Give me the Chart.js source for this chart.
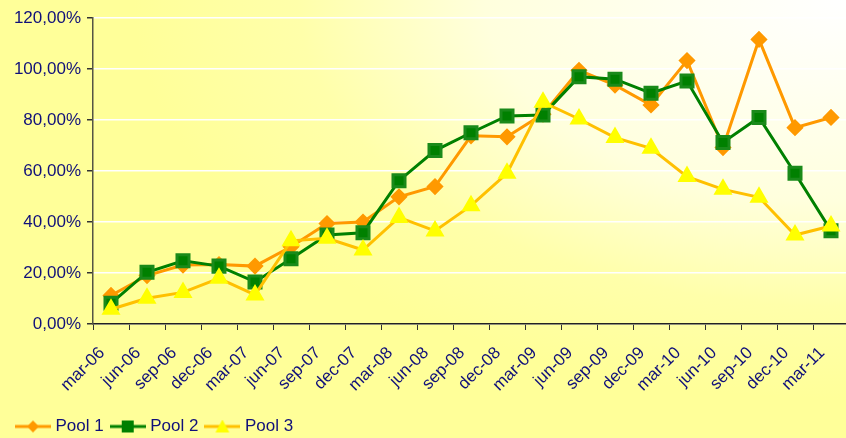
<!DOCTYPE html>
<html>
<head>
<meta charset="utf-8">
<script src="https://cdn.jsdelivr.net/npm/chart.js@4/dist/chart.umd.min.js"></script>
<style>
    html, body { margin: 0; padding: 0; overflow: hidden; }
    body {
        width: 846px;
        height: 438px;
        background: radial-gradient(750px 420px at 100% 0%, #ffffff 0%, #fffff2 20%, #ffffdd 48%, #ffffaa 73%, #ffff99 95%);
        background-color: #ffff99;
    }
    #wrap { width: 849px; height: 445px; }
</style>
</head>
<body>
<div id="wrap"><canvas id="poolChart" width="849" height="445"></canvas></div>
<script>
// Quarters
const kategoriler = ['mar-06', 'jun-06', 'sep-06', 'dec-06', 'mar-07', 'jun-07', 'sep-07', 'dec-07',
    'mar-08', 'jun-08', 'sep-08', 'dec-08', 'mar-09', 'jun-09', 'sep-09', 'dec-09',
    'mar-10', 'jun-10', 'sep-10', 'dec-10', 'mar-11'];

// Values in percent
const pool1 = [11.2, 19.0, 23.1, 23.3, 22.7, 30.3, 39.4, 40.0, 49.9, 53.9, 73.8, 73.4, 82.3,
    99.5, 93.7, 85.9, 103.3, 69.2, 111.6, 77.0, 81.0];
const pool2 = [8.1, 20.3, 24.8, 22.7, 16.5, 25.6, 34.9, 35.8, 56.2, 68.0, 75.0, 81.6, 82.0,
    97.0, 96.0, 90.5, 95.3, 71.2, 81.0, 59.1, 36.6];
const pool3 = [5.8, 10.1, 12.4, 17.9, 11.4, 32.6, 33.6, 29.0, 41.8, 36.5, 46.4, 59.1, 87.0,
    80.4, 73.1, 68.9, 57.8, 52.8, 49.7, 34.9, 38.4];

const yTicks = [0, 20, 40, 60, 80, 100, 120];

const lacivert = '#10107a';
Chart.defaults.font.family = '"Liberation Sans", Arial, sans-serif';
Chart.defaults.font.size = 17;
Chart.defaults.color = lacivert;

// Legend symbol: short line with the marker in the middle
function legendIkon(cizgi, dolgu, tip) {
    const c = document.createElement('canvas');
    c.width = 36; c.height = 14;
    const g = c.getContext('2d');
    g.strokeStyle = cizgi;
    g.lineWidth = 3;
    g.beginPath(); g.moveTo(0, 7); g.lineTo(36, 7); g.stroke();
    g.fillStyle = dolgu;
    g.beginPath();
    if (tip === 'elmas') {
        g.moveTo(18, 1); g.lineTo(24, 7); g.lineTo(18, 13); g.lineTo(12, 7);
    } else if (tip === 'kare') {
        g.rect(12, 1, 12, 12);
    } else {
        g.moveTo(18, 0); g.lineTo(25, 13); g.lineTo(11, 13);
    }
    g.closePath(); g.fill();
    return c;
}

const ikonlar = [
    legendIkon('#ff9900', '#ff9900', 'elmas'),
    legendIkon('#008000', '#008000', 'kare'),
    legendIkon('#ffc000', '#ffff00', 'ucgen')
];

const ctx = document.getElementById('poolChart').getContext('2d');

new Chart(ctx, {
    type: 'line',
    data: {
        labels: kategoriler,
        datasets: [
            {
                label: 'Pool 1',
                data: pool1,
                borderColor: '#ff9900',
                backgroundColor: '#ff9900',
                pointBackgroundColor: '#ff9900',
                pointBorderColor: '#ff9900',
                pointStyle: 'rectRot',
                pointRadius: 6.5,
                borderWidth: 3,
                order: 3
            },
            {
                label: 'Pool 2',
                data: pool2,
                borderColor: '#008000',
                backgroundColor: '#008000',
                pointBackgroundColor: '#008000',
                pointBorderColor: '#1a8a1a',
                pointStyle: 'rect',
                pointRadius: 8.5,
                borderWidth: 3,
                order: 2
            },
            {
                label: 'Pool 3',
                data: pool3,
                borderColor: '#ffc000',
                backgroundColor: '#ffff00',
                pointBackgroundColor: '#ffff00',
                pointBorderColor: '#ffff00',
                pointStyle: 'triangle',
                pointRadius: 8,
                borderWidth: 3,
                order: 1
            }
        ]
    },
    options: {
        responsive: false,
        animation: false,
        layout: { autoPadding: false, padding: { left: 9, right: 0, top: 18, bottom: 0 } },
        plugins: {
            tooltip: { enabled: false },
            legend: {
                display: true,
                position: 'bottom',
                align: 'start',
                labels: {
                    usePointStyle: true,
                    pointStyleWidth: 28,
                    padding: 10,
                    sort: (a, b) => a.datasetIndex - b.datasetIndex,
                    generateLabels: function(chart) {
                        const items = Chart.defaults.plugins.legend.labels.generateLabels(chart);
                        items.forEach(it => { it.pointStyle = ikonlar[it.datasetIndex]; });
                        return items;
                    }
                }
            }
        },
        scales: {
            x: {
                offset: true,
                afterFit: function(axis) {
                    axis.height = 84;
                    axis.paddingLeft = 0;
                    axis.paddingRight = 0;
                },
                grid: {
                    offset: true,
                    drawOnChartArea: false,
                    drawTicks: true,
                    tickLength: 6,
                    color: '#333333'
                },
                border: { color: '#222222', width: 1.5 },
                ticks: {
                    maxRotation: 45,
                    minRotation: 45,
                    autoSkip: false,
                    padding: 13,
                    labelOffset: -9
                }
            },
            y: {
                min: 0,
                max: 120,
                afterBuildTicks: function(axis) {
                    axis.ticks = yTicks.map(v => ({ value: v }));
                },
                afterFit: function(axis) {
                    axis.width = 84;
                    axis.paddingTop = 0;
                    axis.paddingBottom = 0;
                },
                grid: {
                    color: '#ffffff',
                    lineWidth: 1.5,
                    drawTicks: true,
                    tickLength: 6,
                    tickColor: '#333333'
                },
                border: { color: '#555544', width: 1.5 },
                ticks: {
                    padding: 6,
                    callback: v => v.toFixed(2).replace('.', ',') + '%'
                }
            }
        }
    }
});
</script>
</body>
</html>
